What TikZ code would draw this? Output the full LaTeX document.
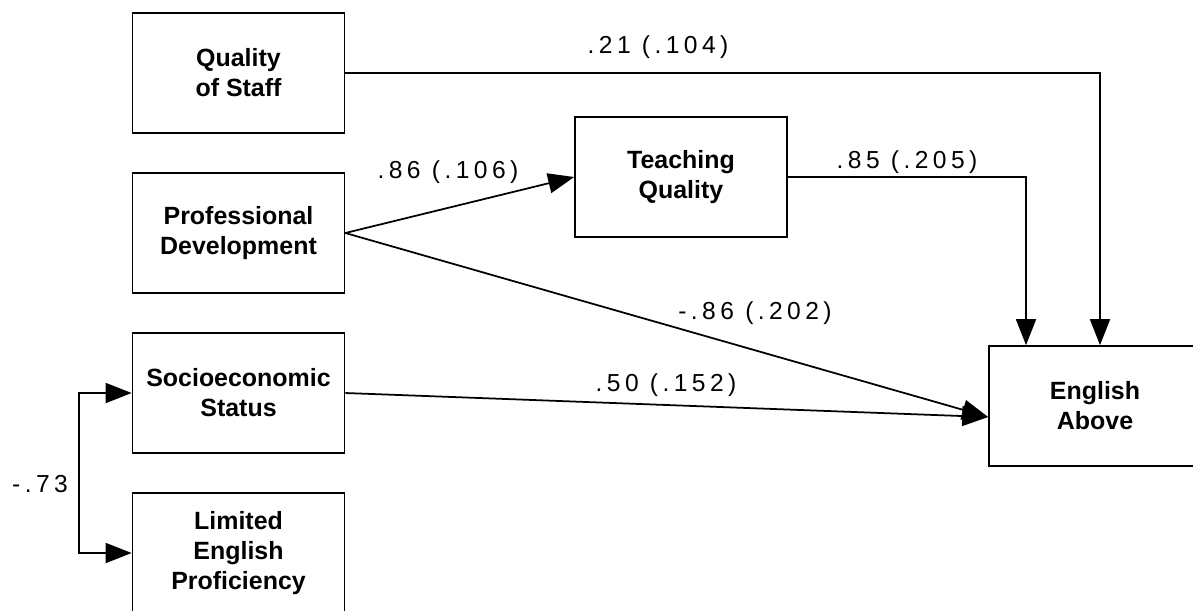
\documentclass[tikz,border=0pt]{standalone}
\usepackage{fontspec}
\setmainfont{Liberation Sans}
\newfontfamily\coeffont[LetterSpace=18]{Liberation Sans}
\usepackage{tikz}
\usetikzlibrary{arrows.meta}

\begin{document}
\begin{tikzpicture}[
    x=0.02cm, y=-0.02cm,
    line width=1pt,
    var/.style={draw, minimum width=4.24cm, minimum height=2.4cm, align=center,
      font=\fontsize{14.2}{17}\selectfont\bfseries},
    coef/.style={font=\coeffont\fontsize{14}{16}\selectfont, inner sep=0pt},
    effect/.style={-{Triangle[length=0.52cm, width=0.4cm]}},
  ]
  \useasboundingbox (0,0) rectangle (1193,610);

  \node[var] (staff) at (238.5,73) {Quality\\of Staff};
  \node[var] (profdev) at (238.5,233) {Professional\\Development};
  \node[var] (ses) at (238.5,393) {Socioeconomic\\Status};
  \node[var] (lep) at (238.5,553) {Limited\\English\\Proficiency};
  \node[var] (teach) at (681,177) {Teaching\\Quality};
  \node[var] (english) at (1095,406) {English\\Above};

  \coordinate (eain) at ([yshift=-0.22cm]english.west);
  \coordinate (eatop1) at ([xshift=-1.38cm]english.north);
  \coordinate (eatop2) at ([xshift=0.1cm]english.north);
  \coordinate (corr) at (79,473);

  \draw[effect] (staff.east) -| (eatop2);
  \draw[effect] (teach.east) -| (eatop1);
  \draw[effect] (profdev.east) -- (teach.west);
  \draw[effect] (profdev.east) -- (eain);
  \draw[effect] (ses.east) -- (eain);
  \draw[{Triangle[length=0.52cm, width=0.4cm]}-{Triangle[length=0.52cm, width=0.4cm]}]
    (ses.west) -| (corr) |- (lep.west);

  \node[coef] (c21) at (658,47) {.21 (.104)};
  \node[coef] (c86a) at (448,172) {.86 (.106)};
  \node[coef] (c85) at (907,162) {.85 (.205)};
  \node[coef] (c86b) at (755,313) {-.86 (.202)};
  \node[coef] (c50) at (666,385) {.50 (.152)};
  \node[coef] (c73) at (40,484) {-.73};
\end{tikzpicture}
\end{document}
